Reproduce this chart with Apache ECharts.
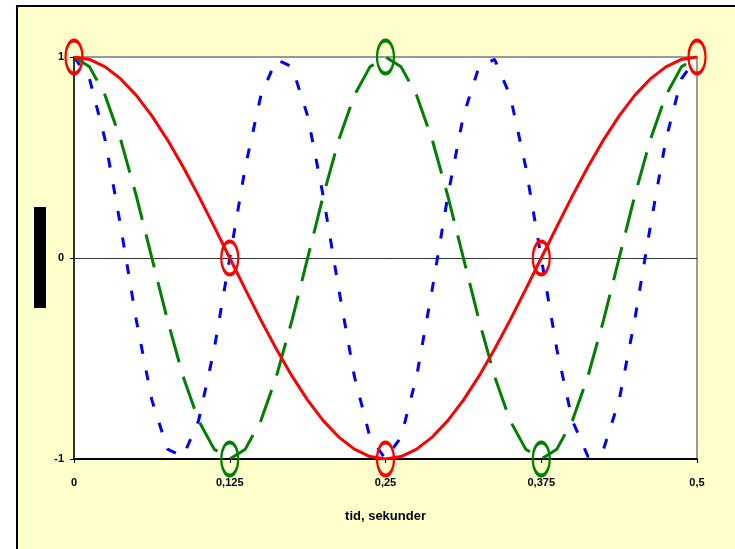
<!DOCTYPE html>
<html>
<head>
<meta charset="utf-8">
<script src="https://cdn.jsdelivr.net/npm/echarts@6/dist/echarts.min.js"></script>
<style>
html,body{margin:0;padding:0;background:#fff;}
#chart{width:735px;height:549px;}
</style>
</head>
<body>
<div id="chart"></div>
<script>
// time samples (seconds)
var t = [0, 0.0125, 0.025, 0.0375, 0.05, 0.0625, 0.075, 0.0875, 0.1, 0.1125, 0.125,
         0.1375, 0.15, 0.1625, 0.175, 0.1875, 0.2, 0.2125, 0.225, 0.2375, 0.25,
         0.2625, 0.275, 0.2875, 0.3, 0.3125, 0.325, 0.3375, 0.35, 0.3625, 0.375,
         0.3875, 0.4, 0.4125, 0.425, 0.4375, 0.45, 0.4625, 0.475, 0.4875, 0.5];
// red solid curve
var redVals = [1, 0.988, 0.951, 0.891, 0.809, 0.707, 0.588, 0.454, 0.309, 0.156, 0,
               -0.156, -0.309, -0.454, -0.588, -0.707, -0.809, -0.891, -0.951, -0.988, -1,
               -0.988, -0.951, -0.891, -0.809, -0.707, -0.588, -0.454, -0.309, -0.156, 0,
               0.156, 0.309, 0.454, 0.588, 0.707, 0.809, 0.891, 0.951, 0.988, 1];
// green long-dash curve
var greenVals = [1, 0.951, 0.809, 0.588, 0.309, 0, -0.309, -0.588, -0.809, -0.951, -1,
                 -0.951, -0.809, -0.588, -0.309, 0, 0.309, 0.588, 0.809, 0.951, 1,
                 0.951, 0.809, 0.588, 0.309, 0, -0.309, -0.588, -0.809, -0.951, -1,
                 -0.951, -0.809, -0.588, -0.309, 0, 0.309, 0.588, 0.809, 0.951, 1];
// blue short-dash curve
var blueVals = [1, 0.891, 0.588, 0.156, -0.309, -0.707, -0.951, -0.988, -0.809, -0.454, 0,
                0.454, 0.809, 0.988, 0.951, 0.707, 0.309, -0.156, -0.588, -0.891, -1,
                -0.891, -0.588, -0.156, 0.309, 0.707, 0.951, 0.988, 0.809, 0.454, 0,
                -0.454, -0.809, -0.988, -0.951, -0.707, -0.309, 0.156, 0.588, 0.891, 1];
// circled points
var redMarks = [[0, 1], [0.125, 0], [0.25, -1], [0.375, 0], [0.5, 1]];
var greenMarks = [[0.125, -1], [0.25, 1], [0.375, -1]];
var xTitle = 'tid, sekunder';

function pairs(xs, ys) { return xs.map(function (x, i) { return [x, ys[i]]; }); }

var chart = echarts.init(document.getElementById('chart'));
var font = 'Liberation Sans, Arial, sans-serif';
chart.setOption({
  backgroundColor: '#ffffff',
  animation: false,
  graphic: [
    { type: 'rect', z: -10, shape: { x: 17, y: 6, width: 740, height: 560 },
      style: { fill: '#FFFFCC', stroke: '#000', lineWidth: 2 } },
    { type: 'rect', z: -5, shape: { x: 34, y: 207, width: 12, height: 101 },
      style: { fill: '#000' } }
  ],
  grid: { left: 74, right: 38, top: 57, bottom: 90, show: true,
          backgroundColor: '#ffffff', borderColor: '#999999', borderWidth: 2 },
  xAxis: {
    type: 'value', min: 0, max: 0.5, interval: 0.125,
    name: xTitle, nameLocation: 'middle', nameGap: 51,
    nameTextStyle: { fontFamily: font, fontSize: 13, fontWeight: 'bold', color: '#000' },
    axisLine: { onZero: false, lineStyle: { color: '#000', width: 2 } },
    axisTick: { show: true, length: 4, lineStyle: { color: '#000' } },
    axisLabel: { margin: 18, fontFamily: font, fontSize: 11, fontWeight: 'bold', color: '#000',
      formatter: function (v) { return String(v).replace('.', ','); } },
    splitLine: { show: false }
  },
  yAxis: {
    type: 'value', min: -1, max: 1, interval: 1,
    axisLine: { show: true, lineStyle: { color: '#333', width: 2 } },
    axisTick: { show: true, length: 4, lineStyle: { color: '#000' } },
    axisLabel: { margin: 10, fontFamily: font, fontSize: 11, fontWeight: 'bold', color: '#000' },
    splitLine: { show: true, lineStyle: { color: ['transparent', '#333333', 'transparent'], width: 1 } }
  },
  series: [
    { type: 'line', data: pairs(t, blueVals), symbol: 'none', z: 3,
      lineStyle: { color: '#0000FF', width: 3, type: [10, 17] } },
    { type: 'line', data: pairs(t, greenVals), symbol: 'none', z: 4,
      lineStyle: { color: '#008000', width: 3, type: [34, 15] } },
    { type: 'line', data: pairs(t, redVals), symbol: 'none', z: 5,
      lineStyle: { color: '#FF0000', width: 3 } },
    { type: 'scatter', data: greenMarks, symbol: 'circle', symbolSize: [17, 33], z: 6,
      itemStyle: { color: 'transparent', borderColor: '#008000', borderWidth: 3, opacity: 1 } },
    { type: 'scatter', data: redMarks, symbol: 'circle', symbolSize: [17, 33], z: 7,
      itemStyle: { color: 'transparent', borderColor: '#FF0000', borderWidth: 3, opacity: 1 } }
  ]
});
</script>
</body>
</html>
